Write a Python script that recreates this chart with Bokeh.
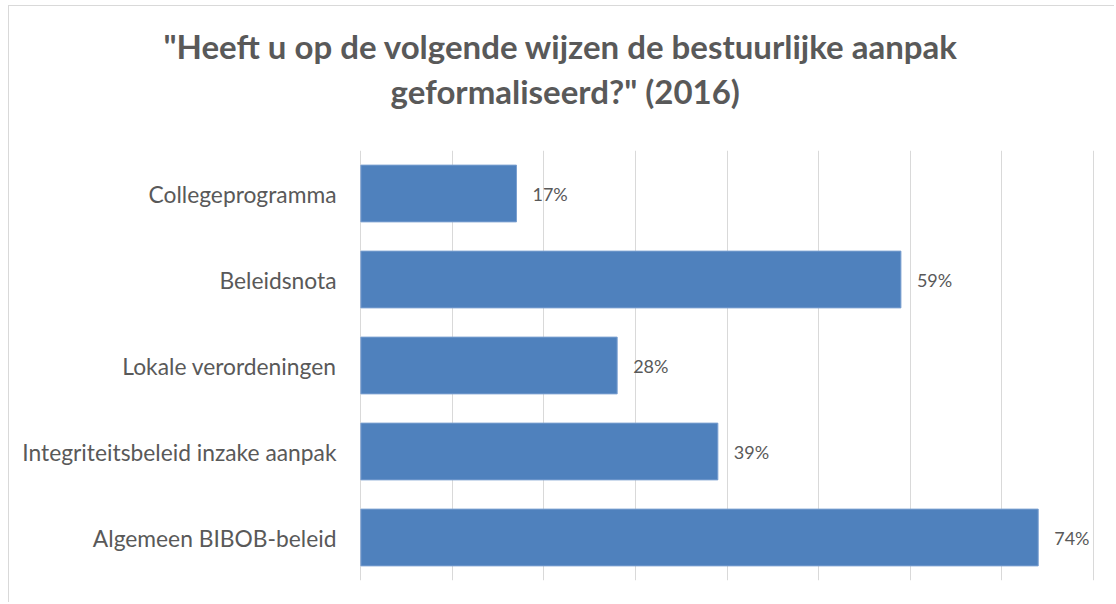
from bokeh.plotting import figure
from bokeh.models import ColumnDataSource, FactorRange, Range1d, SingleIntervalTicker, LabelSet, Title
from bokeh.core.properties import value
from bokeh.embed import file_html
from bokeh.resources import INLINE

categories = ["Collegeprogramma", "Beleidsnota", "Lokale verordeningen",
              "Integriteitsbeleid inzake aanpak", "Algemeen BIBOB-beleid"]
values = [0.17, 0.59, 0.28, 0.39, 0.74]
labels = ["17%", "59%", "28%", "39%", "74%"]

title_line1 = '"Heeft u op de volgende wijzen de bestuurlijke aanpak'
title_line2 = 'geformaliseerd?" (2016)'

FONT = "Lato"
GREY = "#595959"

src = ColumnDataSource(dict(cat=categories, val=values, lab=labels))

p = figure(width=1106, height=597, output_backend="svg", toolbar_location=None,
           y_range=FactorRange(factors=categories[::-1]),
           x_range=Range1d(-0.0015, 0.8015),
           min_border_left=350, min_border_right=21, min_border_top=144, min_border_bottom=23)
p.title = None

p.styles = {"margin-left": "8px", "margin-top": "5px",
            "border-left": "1px solid #d9d9d9", "border-top": "1px solid #d9d9d9"}

p.hbar(y="cat", right="val", left=0, height=0.66, source=src,
       fill_color="#4F81BD", line_color="#7a9fd0", line_width=1)

ls = LabelSet(x="val", y="cat", text="lab", source=src, x_offset=16,
              text_baseline="middle", text_align="left",
              text_font=value(FONT), text_font_size="18px", text_color=GREY)
p.add_layout(ls)

# left-aligned titles, shifted so that each line is centred on the whole chart
t2 = Title(text=title_line2, align="left", offset=31, text_font=FONT,
           text_font_size="33px", text_font_style="bold", text_color=GREY, standoff=80)
t1 = Title(text=title_line1, align="left", offset=-196, text_font=FONT,
           text_font_size="33px", text_font_style="bold", text_color=GREY, standoff=-74)
p.add_layout(t2, "above")
p.add_layout(t1, "above")

p.xaxis.visible = False
p.xaxis.ticker = SingleIntervalTicker(interval=0.1)
p.xgrid.ticker = SingleIntervalTicker(interval=0.1)
p.xgrid.grid_line_color = "#d9d9d9"
p.xgrid.grid_line_width = 1
p.ygrid.grid_line_color = None

p.yaxis.axis_line_color = None
p.yaxis.major_tick_line_color = None
p.yaxis.minor_tick_line_color = None
p.yaxis.major_label_standoff = 17
p.yaxis.major_label_text_font = FONT
p.yaxis.major_label_text_font_size = "22.8px"
p.yaxis.major_label_text_color = GREY

p.outline_line_color = None
p.background_fill_color = "white"
p.border_fill_color = "white"

open("out.html", "w").write(file_html(p, INLINE))
